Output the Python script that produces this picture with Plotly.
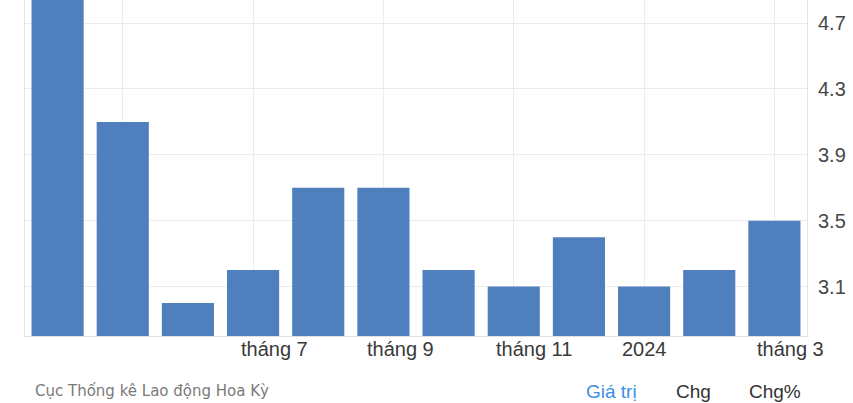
import plotly.graph_objects as go

# Monthly values, April 2023 - March 2024
months = ["2023-04", "2023-05", "2023-06", "2023-07", "2023-08", "2023-09",
          "2023-10", "2023-11", "2023-12", "2024-01", "2024-02", "2024-03"]
values = [4.9, 4.1, 3.0, 3.2, 3.7, 3.7, 3.2, 3.1, 3.4, 3.1, 3.2, 3.5]

# x-axis labels shown under selected months
label_months = ["2023-07", "2023-09", "2023-11", "2024-01", "2024-03"]
label_texts = ["tháng 7", "tháng 9", "tháng 11", "2024", "tháng 3"]
label_shift = [21, 17, 20, 0, 16]

# gridline months (every other bar)
grid_months = months[1::2]

y_ticks = [3.1, 3.5, 3.9, 4.3, 4.7]

BAR = "#4f80bd"
FONT = "Liberation Sans, Arial, sans-serif"

fig = go.Figure(go.Bar(
    x=months, y=values,
    marker=dict(color=BAR, line=dict(width=0)),
))

for m, t, s in zip(label_months, label_texts, label_shift):
    fig.add_annotation(
        x=m, xref="x", y=0, yref="paper", yanchor="top", yshift=0,
        xshift=s, text=t, showarrow=False,
        font=dict(family=FONT, size=20, color="#3a3a3a"),
    )

# footer: source on the left, view switches on the right
PLOT_W = 853 - 25 - 46
FOOT_Y = -55 / 336
fig.add_annotation(
    x=8 / PLOT_W, xref="paper", y=FOOT_Y, yref="paper", xanchor="left",
    yanchor="middle", text="Cục Thống kê Lao động Hoa Kỳ", showarrow=False,
    font=dict(family="DejaVu Sans, sans-serif", size=15, color="#7a7a7a"),
)
for txt, xpix, col in [("Giá trị", 584, "#3d8fe4"), ("Chg", 674, "#333333"),
                       ("Chg%", 747, "#333333")]:
    fig.add_annotation(
        x=(xpix - 25) / PLOT_W, xref="paper", y=FOOT_Y, yref="paper",
        xanchor="left", yanchor="middle", text=txt, showarrow=False,
        font=dict(family=FONT, size=19, color=col),
    )

fig.update_layout(
    width=853, height=403,
    margin=dict(l=25, r=46, t=0, b=67),
    paper_bgcolor="white", plot_bgcolor="white",
    bargap=0.2, showlegend=False,
    xaxis=dict(
        type="category", range=[-0.5, len(months) - 0.5],
        tickmode="array", tickvals=grid_months,
        showticklabels=False, showgrid=True, gridcolor="#ececec", gridwidth=1,
        showline=True, linecolor="#e0e0e0", linewidth=1, ticks="",
        zeroline=False, automargin=False,
    ),
    yaxis=dict(
        side="right", range=[2.8, 4.84], tickmode="array", tickvals=y_ticks,
        ticktext=[f"{v:.1f}" for v in y_ticks],
        showgrid=True, gridcolor="#ececec", gridwidth=1,
        showline=True, mirror=True, linecolor="#e4e4e4", linewidth=1,
        ticks="", zeroline=False, ticklabelstandoff=6, automargin=False,
        tickfont=dict(family=FONT, size=20, color="#474747"),
    ),
)

fig.write_html("out.html")
